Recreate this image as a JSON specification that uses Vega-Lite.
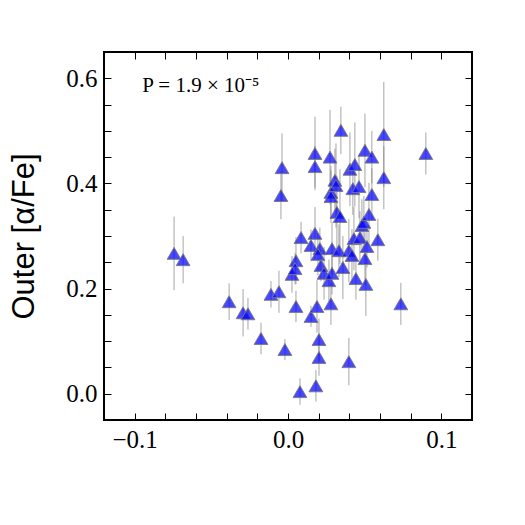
{
  "$schema": "https://vega.github.io/schema/vega-lite/v6.json",
  "autosize": "none",
  "width": 368,
  "height": 368,
  "padding": {"left": 104, "top": 52, "right": 53, "bottom": 105},
  "background": "white",
  "config": {
    "view": {"stroke": "black", "strokeWidth": 2},
    "axis": {
      "domain": false,
      "grid": false,
      "tickColor": "black",
      "tickWidth": 1,
      "tickSize": -7,
      "labelFont": "Liberation Serif",
      "labelFontSize": 25,
      "labelColor": "black",
      "titleFont": "Liberation Sans",
      "titleFontWeight": "normal",
      "titleColor": "black"
    }
  },
  "data": {
    "values": [
      {"x": -0.0743, "y": 0.267, "e": 0.07},
      {"x": -0.0684, "y": 0.255, "e": 0.045},
      {"x": -0.0384, "y": 0.175, "e": 0.035},
      {"x": -0.0293, "y": 0.154, "e": 0.045},
      {"x": -0.0261, "y": 0.152, "e": 0.03},
      {"x": -0.0176, "y": 0.105, "e": 0.03},
      {"x": -0.0111, "y": 0.189, "e": 0.025},
      {"x": -0.0059, "y": 0.194, "e": 0.04},
      {"x": -0.0039, "y": 0.43, "e": 0.065},
      {"x": -0.0046, "y": 0.377, "e": 0.045},
      {"x": -0.002, "y": 0.084, "e": 0.02},
      {"x": 0.0026, "y": 0.227, "e": 0.035},
      {"x": 0.0052, "y": 0.253, "e": 0.045},
      {"x": 0.0046, "y": 0.238, "e": 0.03},
      {"x": 0.0052, "y": 0.166, "e": 0.03},
      {"x": 0.0085, "y": 0.297, "e": 0.03},
      {"x": 0.0078, "y": 0.004, "e": 0.025},
      {"x": 0.015, "y": 0.282, "e": 0.03},
      {"x": 0.015, "y": 0.147, "e": 0.02},
      {"x": 0.0176, "y": 0.457, "e": 0.07},
      {"x": 0.0176, "y": 0.432, "e": 0.04},
      {"x": 0.0176, "y": 0.305, "e": 0.05},
      {"x": 0.0189, "y": 0.166, "e": 0.05},
      {"x": 0.0182, "y": 0.015, "e": 0.03},
      {"x": 0.0202, "y": 0.103, "e": 0.04},
      {"x": 0.0202, "y": 0.069, "e": 0.035},
      {"x": 0.0208, "y": 0.276, "e": 0.04},
      {"x": 0.0195, "y": 0.265, "e": 0.04},
      {"x": 0.0215, "y": 0.244, "e": 0.03},
      {"x": 0.0235, "y": 0.229, "e": 0.05},
      {"x": 0.0267, "y": 0.215, "e": 0.04},
      {"x": 0.0274, "y": 0.45, "e": 0.09},
      {"x": 0.028, "y": 0.383, "e": 0.05},
      {"x": 0.028, "y": 0.375, "e": 0.05},
      {"x": 0.028, "y": 0.171, "e": 0.04},
      {"x": 0.0287, "y": 0.276, "e": 0.05},
      {"x": 0.0287, "y": 0.229, "e": 0.04},
      {"x": 0.0306, "y": 0.406, "e": 0.06},
      {"x": 0.0313, "y": 0.396, "e": 0.08},
      {"x": 0.0319, "y": 0.345, "e": 0.07},
      {"x": 0.0339, "y": 0.337, "e": 0.09},
      {"x": 0.0345, "y": 0.501, "e": 0.045},
      {"x": 0.0332, "y": 0.272, "e": 0.05},
      {"x": 0.0358, "y": 0.24, "e": 0.06},
      {"x": 0.0397, "y": 0.272, "e": 0.06},
      {"x": 0.0417, "y": 0.263, "e": 0.05},
      {"x": 0.0397, "y": 0.061, "e": 0.045},
      {"x": 0.0404, "y": 0.427, "e": 0.07},
      {"x": 0.0436, "y": 0.436, "e": 0.08},
      {"x": 0.0423, "y": 0.39, "e": 0.05},
      {"x": 0.0463, "y": 0.394, "e": 0.06},
      {"x": 0.043, "y": 0.295, "e": 0.06},
      {"x": 0.0469, "y": 0.297, "e": 0.05},
      {"x": 0.0482, "y": 0.32, "e": 0.05},
      {"x": 0.0495, "y": 0.326, "e": 0.05},
      {"x": 0.0528, "y": 0.341, "e": 0.06},
      {"x": 0.0502, "y": 0.463, "e": 0.07},
      {"x": 0.0547, "y": 0.45, "e": 0.05},
      {"x": 0.0547, "y": 0.379, "e": 0.05},
      {"x": 0.0515, "y": 0.28, "e": 0.04},
      {"x": 0.0502, "y": 0.257, "e": 0.05},
      {"x": 0.0443, "y": 0.219, "e": 0.04},
      {"x": 0.0508, "y": 0.208, "e": 0.06},
      {"x": 0.0586, "y": 0.293, "e": 0.04},
      {"x": 0.0625, "y": 0.493, "e": 0.1},
      {"x": 0.0625, "y": 0.411, "e": 0.06},
      {"x": 0.0736, "y": 0.171, "e": 0.04},
      {"x": 0.0899, "y": 0.457, "e": 0.04}
    ]
  },
  "layer": [
    {
      "mark": {"type": "errorbar", "color": "#808080", "opacity": 0.7, "thickness": 1},
      "encoding": {
        "x": {
          "field": "x", "type": "quantitative",
          "scale": {"domain": [-0.12, 0.12], "nice": false, "zero": false},
          "axis": {
            "orient": "bottom", "title": null,
            "values": [-0.12, -0.1, -0.08, -0.06, -0.04, -0.02, 0, 0.02, 0.04, 0.06, 0.08, 0.1, 0.12],
            "labelExpr": "abs(round(datum.value*100)) % 10 == 0 ? format(datum.value, '.1f') : ''",
            "labelPadding": 14,
            "labelFlush": false
          }
        },
        "y": {
          "field": "y", "type": "quantitative",
          "scale": {"domain": [-0.05, 0.65], "nice": false, "zero": false},
          "axis": {
            "orient": "left", "title": "Outer [α/Fe]",
            "titleFontSize": 31, "titlePadding": 25,
            "values": [-0.05, 0, 0.05, 0.1, 0.15, 0.2, 0.25, 0.3, 0.35, 0.4, 0.45, 0.5, 0.55, 0.6, 0.65],
            "labelExpr": "abs(round(datum.value*100)) % 20 == 0 ? format(datum.value, '.1f') : ''",
            "labelPadding": 14,
            "labelFlush": false
          }
        },
        "yError": {"field": "e"}
      }
    },
    {
      "mark": {"type": "point", "shape": "triangle-up", "filled": true, "size": 190, "fill": "#0000ff", "fillOpacity": 0.72, "stroke": "#7a7a7a", "strokeWidth": 1, "strokeOpacity": 0.9},
      "encoding": {
        "x": {
          "field": "x", "type": "quantitative",
          "axis": {
            "orient": "top", "title": null, "labels": false,
            "values": [-0.12, -0.1, -0.08, -0.06, -0.04, -0.02, 0, 0.02, 0.04, 0.06, 0.08, 0.1, 0.12]
          }
        },
        "y": {
          "field": "y", "type": "quantitative",
          "axis": {
            "orient": "right", "title": null, "labels": false,
            "values": [-0.05, 0, 0.05, 0.1, 0.15, 0.2, 0.25, 0.3, 0.35, 0.4, 0.45, 0.5, 0.55, 0.6, 0.65]
          }
        }
      }
    },
    {
      "data": {"values": [{"x": -0.0951, "y": 0.585, "t": "P = 1.9 × 10⁻⁵"}]},
      "mark": {"type": "text", "align": "left", "baseline": "middle", "font": "Liberation Serif", "fontSize": 21, "color": "black"},
      "encoding": {
        "x": {"field": "x", "type": "quantitative", "axis": null},
        "y": {"field": "y", "type": "quantitative", "axis": null},
        "text": {"field": "t"}
      }
    }
  ],
  "resolve": {"axis": {"x": "independent", "y": "independent"}}
}
